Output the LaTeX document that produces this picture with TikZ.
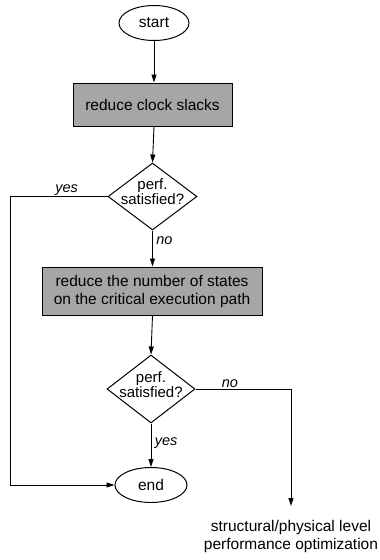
\documentclass[tikz,border=0pt]{standalone}
\usepackage{fontspec}
\setmainfont{Liberation Sans}
\usetikzlibrary{shapes.geometric,arrows.meta}
\begin{document}
\begin{tikzpicture}[x=1pt,y=-1pt,
  every node/.style={font=\fontsize{15.5}{18}\selectfont},
  term/.style={draw,ellipse,minimum width=70pt,minimum height=35pt,inner sep=0pt,line width=1pt},
  proc/.style={draw,fill=black!35,rectangle,align=center,line width=1pt,inner sep=0pt},
  dec/.style={draw,diamond,inner sep=0pt,minimum width=89pt,minimum height=67pt,line width=1pt},
  dectext/.style={align=center,inner sep=0pt,font=\fontsize{15}{15}\selectfont},
  lab/.style={font=\itshape\fontsize{14.5}{16}\selectfont},
  arr/.style={line width=0.9pt,-{Triangle[length=8pt,width=5pt]}},
  ln/.style={line width=0.9pt}]
\useasboundingbox (0,0) rectangle (380,560);
\node[term] (start) at (154,23) {start};
\node[proc,minimum width=159pt,minimum height=43pt] (b1) at (152.5,104.5) {reduce clock slacks};
\node[dec] (d1) at (152.5,196.5) {};
\node[dectext] (d1t) at (152.5,191.5) {perf.\\satisfied?};
\node[proc,minimum width=220pt,minimum height=48pt] (b2) at (152,291) {reduce the number of states\\on the critical execution path};
\node[dec,minimum width=88pt,minimum height=68pt] (d2) at (151,389) {};
\node[dectext] (d2t) at (151,384.5) {perf.\\satisfied?};
\node[term,minimum width=72pt] (end) at (151,485) {end};
\coordinate (c1) at (10,196.5);
\coordinate (c2) at (10,485);
\coordinate (c3) at (291,389);
\coordinate (c4) at (291,506);
\node[align=center,anchor=north] (out) at (291,517) {structural/physical level\\performance optimization};
\draw[arr] (start) -- (start|-b1.north);
\draw[arr] (start|-b1.south) -- (d1.north);
\draw[arr] (d1.south) -- node[lab,anchor=west,pos=0.28]{no} (d1|-b2.north);
\draw[arr] (d1|-b2.south) -- (d2.north);
\draw[arr] (d2.south) -- node[lab,anchor=west,pos=0.45]{yes} (end);
\draw[ln] (d1.west) -- node[lab,above,pos=0.42,inner sep=1pt]{yes} (c1) -- (c2);
\draw[arr] (c2) -- (end.west);
\draw[ln] (d2.east) -- node[lab,above,pos=0.36,inner sep=1pt]{no} (c3);
\draw[arr] (c3) -- (c4);
\end{tikzpicture}
\end{document}
